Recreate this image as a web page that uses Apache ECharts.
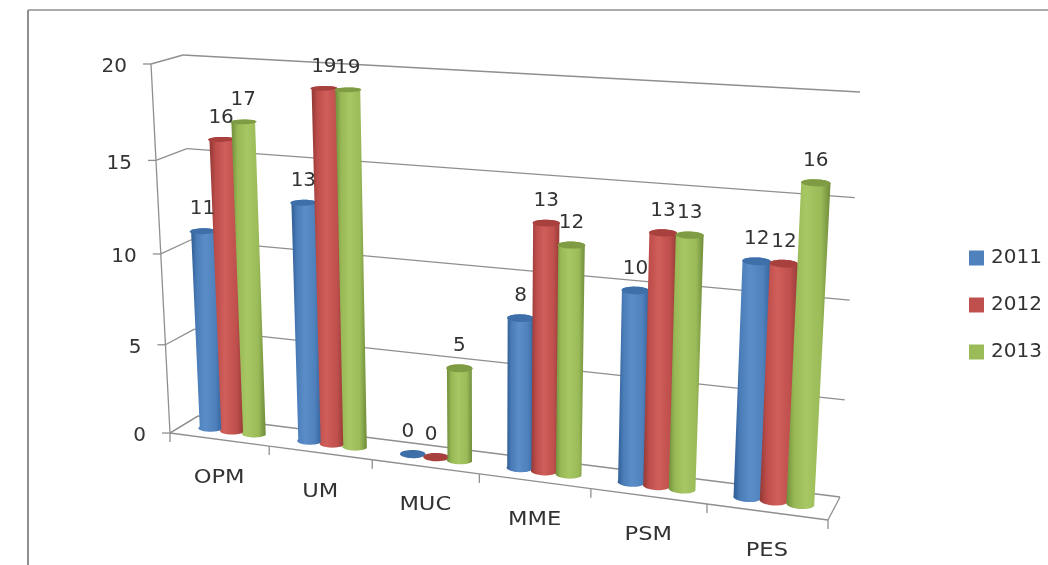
<!DOCTYPE html>
<html><head><meta charset="utf-8">
<style>html,body{margin:0;padding:0;background:#fff}#c{width:1048px;height:565px}</style>
<script src="https://cdn.jsdelivr.net/npm/echarts@6/dist/echarts.min.js"></script>
</head><body><div id="c"></div>
<script>
var categories = ['OPM','UM','MUC','MME','PSM','PES'];
var years = ['2011','2012','2013'];
var values2011 = [11,13,0,8,10,12];
var values2012 = [16,19,0,13,13,12];
var values2013 = [17,19,5,12,13,16];
var valueTicks = [0,5,10,15,20];

var FONT = '"DejaVu Sans"';
var TEXT = '#333333', LINE = '#8f8f8f';
var GRID = {left:0, top:0, width:1000, height:560};
// corners of the 3D box as drawn on the page: bottom-left, bottom-right, top-right, top-left
var FRONT = [[170,433],[828,520],[852,107],[151,64]];
var BACK  = [[198,416],[840,497],[860,92],[183,55]];
function homography(q){
  var x0=q[0][0],y0=q[0][1],x1=q[1][0],y1=q[1][1],x2=q[2][0],y2=q[2][1],x3=q[3][0],y3=q[3][1];
  var sx=x0-x1+x2-x3, sy=y0-y1+y2-y3, dx1=x1-x2, dx2=x3-x2, dy1=y1-y2, dy2=y3-y2;
  var den=dx1*dy2-dx2*dy1, g=(sx*dy2-dx2*sy)/den, h=(dx1*sy-sx*dy1)/den;
  var a=x1-x0+g*x1, b=x3-x0+h*x3, d=y1-y0+g*y1, e=y3-y0+h*y3;
  return function(u,v){var m=g*u+h*v+1;return [(a*u+b*v+x0)/m,(d*u+e*v+y0)/m];};
}
var hFront=homography(FRONT), hBack=homography(BACK);
// grid pixel (from the hidden cartesian axes) + depth -> skewed box position
function project(p,w){
  var u=(p[0]-GRID.left)/GRID.width, v=(GRID.top+GRID.height-p[1])/GRID.height;
  var f=hFront(u,v), b=hBack(u,v);
  return [f[0]+(b[0]-f[0])*w, f[1]+(b[1]-f[1])*w];
}
var seriesStyle = [
  {base:'#4f81bd', stops:['#2f5c92','#4a7cb8','#5b8dc8','#4f81bd','#34649c'], cap:'#3f6fa8'},
  {base:'#c0504d', stops:['#8f3835','#bd4d4a','#d05e5b','#c0504d','#953a37'], cap:'#a8403d'},
  {base:'#9bbb59', stops:['#6f8d3a','#97b855','#a6c763','#9bbb59','#6e8a38'], cap:'#7f9c45'}
];
var BAR_R = 0.115, DEPTH_R = 0.2, DEPTH_C = 0.5, SEP = 0.222;

function barRender(si){
  return function(params, api){
    var cat=api.value(0), val=api.value(1);
    var band=api.size([1,0])[0];
    var base=api.coord([cat,0]), top=api.coord([cat,val]);
    var off=(si-1)*SEP*band, r=BAR_R*band;
    var st=seriesStyle[si], children=[];
    function ring(py,t0,t1,n){
      var pts=[];
      for(var i=0;i<=n;i++){
        var t=t0+(t1-t0)*i/n;
        pts.push(project([base[0]+off+r*Math.cos(t),py],DEPTH_C+DEPTH_R*Math.sin(t)));
      }
      return pts;
    }
    if(val>0){
      // front half of bottom circle (sin<0 is towards viewer), then back up over the top circle
      var body=ring(base[1],Math.PI,2*Math.PI,24).concat(ring(top[1],0,Math.PI,24));
      children.push({type:'polygon',shape:{points:body},
        style:{fill:{type:'linear',x:0,y:0,x2:1,y2:0,colorStops:[
          {offset:0,color:st.stops[0]},{offset:0.18,color:st.stops[1]},{offset:0.45,color:st.stops[2]},
          {offset:0.78,color:st.stops[3]},{offset:1,color:st.stops[4]}]}}});
    }
    children.push({type:'polygon',shape:{points:ring(top[1],0,2*Math.PI,36)},
      style:{fill:st.cap}});
    var c=project([base[0]+off,top[1]],DEPTH_C);
    children.push({type:'text',z2:100,x:c[0]-(val===0?5:0),y:c[1]-22,
      style:{text:String(val),font:'20px '+FONT,fill:TEXT,align:'center',verticalAlign:'middle'}});
    return {type:'group',children:children};
  };
}
function line(a,b){
  return {type:'line',shape:{x1:a[0],y1:a[1],x2:b[0],y2:b[1]},style:{stroke:LINE,lineWidth:1.3}};
}
function valueAxisRender(params, api){
  var val=api.value(0), py=api.coord([0,val])[1];
  var L=GRID.left, R=GRID.left+GRID.width;
  var f=project([L,py],0), bl=project([L,py],1), br=project([R,py],1);
  var kids=[line([f[0]-8,f[1]],f),line(f,bl),line(bl,br)];
  kids.push({type:'text',x:f[0]-24,y:f[1]+3,
    style:{text:String(val),font:'20px '+FONT,fill:TEXT,align:'right',verticalAlign:'middle'}});
  if(val>0){
    var prev=project([L,api.coord([0,val-5])[1]],0);
    kids.push(line(prev,f));
  }
  return {type:'group',children:kids};
}
function categoryAxisRender(params, api){
  var i=api.value(0), band=api.size([1,0])[0], c=api.coord([i,0]);
  var right=project([c[0]+band/2,c[1]],0), left=project([c[0]-band/2,c[1]],0), mid=project([c[0],c[1]],0);
  var kids=[line(left,right),line(right,[right[0],right[1]+9])];
  if(i===0){
    kids.push(line(left,[left[0],left[1]+9]));
    kids.push(line(left,project([c[0]-band/2,c[1]],1)));
  }
  if(i===categories.length-1){
    kids.push(line(right,project([c[0]+band/2,c[1]],1)));
  }
  kids.push({type:'text',x:mid[0],y:mid[1]+38.5,scaleX:1.13,
    style:{text:categories[i],font:'20px '+FONT,fill:TEXT,align:'center',verticalAlign:'middle'}});
  return {type:'group',children:kids};
}
var allValues=[values2011,values2012,values2013];
var series=[
  {type:'custom',name:'valueAxis',silent:true,clip:false,z:1,renderItem:valueAxisRender,
   data:valueTicks.map(function(v){return [v];}),encode:{y:0}},
  {type:'custom',name:'categoryAxis',silent:true,clip:false,z:1,renderItem:categoryAxisRender,
   data:categories.map(function(c,i){return [i];}),encode:{x:0}}
];
years.forEach(function(y,si){
  series.push({type:'custom',name:y,clip:false,z:2,silent:true,renderItem:barRender(si),
    itemStyle:{color:seriesStyle[si].base},
    encode:{x:0,y:1},
    data:allValues[si].map(function(v,i){return [i,v];})});
});
var chart=echarts.init(document.getElementById('c'),null,{renderer:'canvas'});
chart.setOption({
  animation:false,
  backgroundColor:'#fff',
  grid:GRID,
  xAxis:{type:'category',data:categories,show:false},
  yAxis:{type:'value',min:0,max:20,interval:5,show:false},
  legend:{data:years,orient:'vertical',left:969,top:248,itemWidth:15,itemHeight:15,itemGap:27,
    selectedMode:false,icon:'rect',
    textStyle:{fontFamily:FONT,fontSize:20,color:TEXT,padding:[0,0,0,2]},padding:0},
  graphic:[
    {type:'line',shape:{x1:28,y1:565,x2:28,y2:10},style:{stroke:'#8f8f8f',lineWidth:2}},
    {type:'line',shape:{x1:28,y1:10,x2:1048,y2:10},style:{stroke:'#8f8f8f',lineWidth:1.5}}
  ],
  series:series
});
</script></body></html>
